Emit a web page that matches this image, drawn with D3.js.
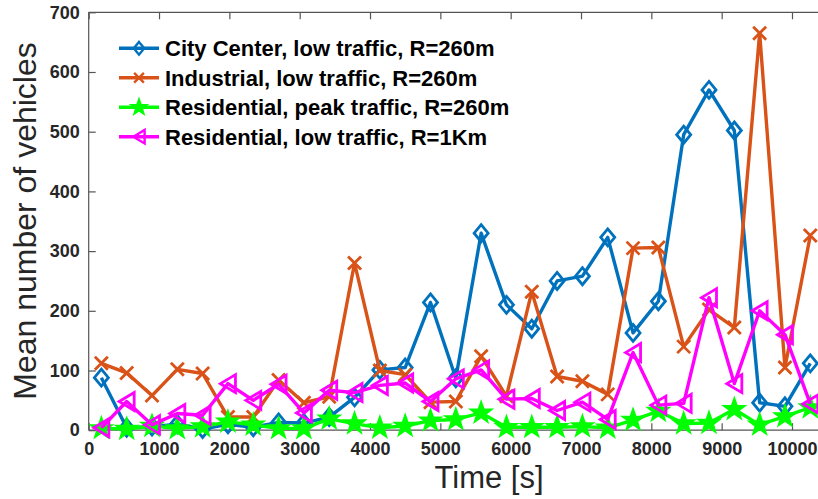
<!DOCTYPE html>
<html>
<head>
<meta charset="utf-8">
<script src="https://cdn.jsdelivr.net/npm/d3@7"></script>
<style>
html,body{margin:0;padding:0;background:#fff;}
svg{display:block;font-family:"Liberation Sans",Arial,Helvetica,sans-serif;}
</style>
</head>
<body>
<svg id="chart" width="818" height="499"></svg>
<script>
// ---- data ----
const times = [180,540,900,1260,1620,1980,2340,2700,3060,3420,3780,4140,4500,4860,5220,5580,5940,6300,6660,7020,7380,7740,8100,8460,8820,9180,9540,9900,10260];
const cityCenterLow = [88,4,6,10,2,10,5,13,12,22,55,101,105,214,87,330,210,170,250,258,323,163,216,495,570,502,46,40,112];
const industrialLow = [112,96,58,102,95,22,22,84,46,56,280,100,93,47,48,124,57,232,90,82,60,305,306,140,202,172,665,105,326];
const residentialPeak = [3,2,7,3,6,14,9,3,3,19,11,4,7,16,18,29,5,5,5,6,4,17,32,11,12,35,9,23,38];
const residentialLow1k = [4,48,9,28,25,78,50,77,29,67,63,75,79,48,86,101,52,53,33,47,18,130,42,45,222,78,200,160,44];
const seriesNames = ["City Center, low traffic, R=260m","Industrial, low traffic, R=260m","Residential, peak traffic, R=260m","Residential, low traffic, R=1Km"];
const xTicks = [0,1000,2000,3000,4000,5000,6000,7000,8000,9000,10000];
const yTicks = [0,100,200,300,400,500,600,700];
const xLabel = "Time [s]";
const yLabel = "Mean number of vehicles";

const series = [
  {name: seriesNames[0], values: cityCenterLow, color: "#0072BD", marker: "diamond"},
  {name: seriesNames[1], values: industrialLow, color: "#D95319", marker: "x"},
  {name: seriesNames[2], values: residentialPeak, color: "#00FF00", marker: "star"},
  {name: seriesNames[3], values: residentialLow1k, color: "#FF00FF", marker: "triangle"}
];

const svg = d3.select("#chart");
const W = 818, H = 499;
const pLeft = 88.7, pTop = 12.3, pBottom = 430.2;
const x = d3.scaleLinear().domain([0, 10000]).range([pLeft, 792]);
const y = d3.scaleLinear().domain([0, 700]).range([pBottom, pTop]);
const axisColor = "#555";
const textColor = "#262626";

// markers
function markerPath(type, s) {
  if (type === "diamond") {
    const w = 7*s, h = 8.5*s;
    return `M0,${-h}L${w},0L0,${h}L${-w},0Z`;
  }
  if (type === "x") {
    const r = 6.5*s;
    return `M${-r},${-r}L${r},${r}M${-r},${r}L${r},${-r}`;
  }
  if (type === "star") {
    const R = 9.5*s, r = R*0.4;
    let p = "";
    for (let i = 0; i < 10; i++) {
      const a = -Math.PI/2 + i*Math.PI/5;
      const rr = i % 2 === 0 ? R : r;
      p += (i === 0 ? "M" : "L") + (rr*Math.cos(a)).toFixed(2) + "," + (rr*Math.sin(a)).toFixed(2);
    }
    return p + "Z";
  }
  if (type === "triangle") {
    const w = 7.5*s, h = 9*s;
    return `M${-w},0L${w},${-h}L${w},${h}Z`;
  }
}

// axes lines
const ax = svg.append("g");
ax.append("line").attr("x1", pLeft).attr("x2", W).attr("y1", pBottom).attr("y2", pBottom).attr("stroke", axisColor).attr("stroke-width", 1.2);
ax.append("line").attr("x1", pLeft).attr("x2", W).attr("y1", pTop).attr("y2", pTop).attr("stroke", axisColor).attr("stroke-width", 1.2);
ax.append("line").attr("x1", pLeft).attr("x2", pLeft).attr("y1", pTop).attr("y2", pBottom).attr("stroke", axisColor).attr("stroke-width", 1.2);

// x axis via d3
const xAxisG = svg.append("g").attr("transform", `translate(0,${pBottom})`)
  .call(d3.axisBottom(x).tickValues(xTicks).tickSizeInner(-7).tickSizeOuter(0).tickPadding(12).tickFormat(d3.format("d")));
xAxisG.select(".domain").remove();
xAxisG.selectAll(".tick line").attr("stroke", axisColor).attr("stroke-width", 1.2);
xAxisG.selectAll(".tick text").attr("fill", textColor).attr("font-size", 18).attr("font-weight", "bold").attr("font-family", "Liberation Sans, Arial, sans-serif");

const xTopG = svg.append("g").attr("transform", `translate(0,${pTop})`)
  .call(d3.axisTop(x).tickValues(xTicks).tickSizeInner(-7).tickSizeOuter(0).tickFormat(""));
xTopG.select(".domain").remove();
xTopG.selectAll(".tick line").attr("stroke", axisColor).attr("stroke-width", 1.2);

const yAxisG = svg.append("g").attr("transform", `translate(${pLeft},0)`)
  .call(d3.axisLeft(y).tickValues(yTicks).tickSizeInner(-7).tickSizeOuter(0).tickPadding(9).tickFormat(d3.format("d")));
yAxisG.select(".domain").remove();
yAxisG.selectAll(".tick line").attr("stroke", axisColor).attr("stroke-width", 1.2);
yAxisG.selectAll(".tick text").attr("fill", textColor).attr("font-size", 18).attr("font-weight", "bold").attr("font-family", "Liberation Sans, Arial, sans-serif");

// axis titles
svg.append("text").attr("x", 489).attr("y", 488).attr("text-anchor", "middle")
  .attr("font-size", 31).attr("fill", textColor).text(xLabel);
svg.append("text").attr("transform", `translate(36,221) rotate(-90)`).attr("text-anchor", "middle")
  .attr("font-size", 32).attr("fill", textColor).text(yLabel);

// series
const plot = svg.append("g");
const line = d3.line().x((d, i) => x(times[i])).y(d => y(d));
series.forEach(s => {
  const g = plot.append("g");
  g.append("path").datum(s.values).attr("d", line).attr("fill", "none")
    .attr("stroke", s.color).attr("stroke-width", 3.4).attr("stroke-linejoin", "round");
  g.selectAll("path.m").data(s.values).join("path").attr("class", "m")
    .attr("transform", (d, i) => `translate(${x(times[i])},${y(d)})`)
    .attr("d", markerPath(s.marker, 1))
    .attr("fill", s.marker === "star" ? s.color : "none")
    .attr("stroke", s.color).attr("stroke-width", 2.8).attr("stroke-linejoin", "miter");
});

// legend
const legRows = [48.3, 77.8, 107.3, 136.7];
const leg = svg.append("g");
series.forEach((s, i) => {
  const ly = legRows[i];
  leg.append("line").attr("x1", 119).attr("x2", 159).attr("y1", ly).attr("y2", ly)
    .attr("stroke", s.color).attr("stroke-width", 3.4);
  leg.append("path").attr("transform", `translate(139,${ly})`).attr("d", markerPath(s.marker, 0.75))
    .attr("fill", s.marker === "star" ? s.color : "none").attr("stroke", s.color).attr("stroke-width", 2.4);
  leg.append("text").attr("x", 165).attr("y", ly).attr("dy", "0.36em")
    .attr("font-size", 22).attr("font-weight", "bold").attr("fill", "#000").text(s.name);
});
</script>
</body>
</html>
